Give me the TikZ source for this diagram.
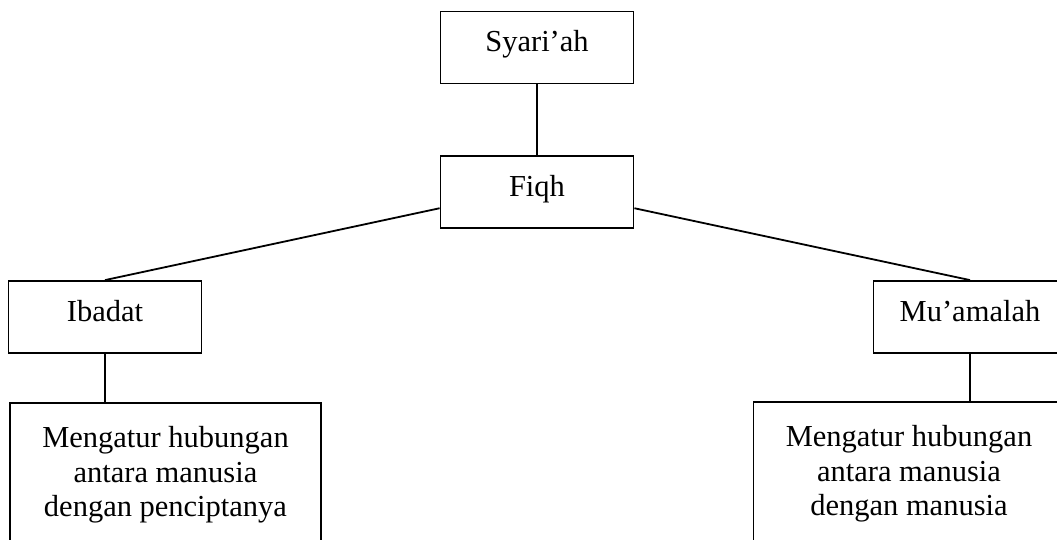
\documentclass[tikz,border=0pt]{standalone}
\usepackage{fontspec}
\setmainfont{Liberation Serif}
\usetikzlibrary{calc}
\begin{document}
\begin{tikzpicture}[x=1pt,y=-1pt,
  box/.style={draw, line width=1.8pt, inner sep=0pt, font=\fontsize{30.5}{34.5}\selectfont},
  small/.style={box, minimum width=193pt, minimum height=72pt, text height=21pt, text depth=12pt},
  big/.style={box, anchor=north, align=center, minimum width=311pt, text height=114pt, text depth=200pt},
  link/.style={line width=1.8pt}]
\useasboundingbox (0,0) rectangle (1057,540);
\clip (0,0) rectangle (1057,540);
\node[small] (syariah) at (537,47.5) {Syari'ah};
\node[small] (fiqh) at (537,192) {Fiqh};
\node[small] (ibadat) at (105,317) {Ibadat};
\node[small] (muamalah) at (970,317) {Mu'amalah};
\node[big] (pencipta) at (165.5,402) {Mengatur hubungan\\antara manusia\\dengan penciptanya};
\node[big] (manusia) at (909,401) {Mengatur hubungan\\antara manusia\\dengan manusia};
\draw[link] (syariah) -- (fiqh);
\draw[link] ($(fiqh.north west)!0.72!(fiqh.south west)$) -- (ibadat.north);
\draw[link] ($(fiqh.north east)!0.72!(fiqh.south east)$) -- (muamalah.north);
\draw[link] (ibadat.south) -- (ibadat.south |- pencipta.north);
\draw[link] (muamalah.south) -- (muamalah.south |- manusia.north);
\end{tikzpicture}
\end{document}
